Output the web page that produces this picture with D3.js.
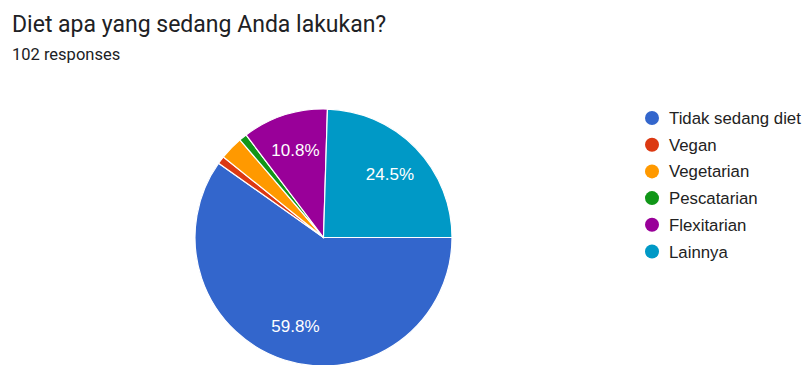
<!DOCTYPE html>
<html><head><meta charset="utf-8">
<script src="https://cdn.jsdelivr.net/npm/d3@7"></script>
<style>html,body{margin:0;padding:0;background:#fff;}svg{display:block;font-family:Roboto,Arial,sans-serif;}</style>
</head><body>
<svg id="chart" width="807" height="365"></svg>
<script>
const title = "Diet apa yang sedang Anda lakukan?";
const subtitle = "102 responses";
const categories = ["Tidak sedang diet","Vegan","Vegetarian","Pescatarian","Flexitarian","Lainnya"];
const counts = [61,1,3,1,11,25];
const colors = ["#3366cc","#dc3912","#ff9900","#109618","#990099","#0099c6"];

const svg = d3.select("#chart");
svg.append("text").attr("x",12).attr("y",32).attr("font-size",23).attr("fill","#202124").text(title);
svg.append("text").attr("x",12).attr("y",60).attr("font-size",16.5).attr("fill","#202124").text(subtitle);

const cx = 323.5, cy = 237.5, R = 128.5;
const total = d3.sum(counts);
const data = categories.map((c,i)=>({cat:c, v:counts[i], color:colors[i]}));
const pie = d3.pie().value(d=>d.v).sort(null).startAngle(Math.PI/2).endAngle(Math.PI/2+2*Math.PI);
const arcs = pie(data);
const arc = d3.arc().innerRadius(0).outerRadius(R);
const labelArc = d3.arc().innerRadius(R*0.72).outerRadius(R*0.72);
const g = svg.append("g").attr("transform",`translate(${cx},${cy})`);
g.selectAll("path").data(arcs).join("path")
  .attr("d",arc).attr("fill",d=>d.data.color).attr("stroke","#fff").attr("stroke-width",1.2);
g.selectAll("text").data(arcs.filter(d=>d.data.v/total>0.05)).join("text")
  .attr("transform",d=>`translate(${labelArc.centroid(d)})`)
  .attr("text-anchor","middle").attr("dy","0.38em")
  .attr("font-family","'Liberation Sans',Arial,sans-serif")
  .attr("font-size",17).attr("fill","#fff")
  .text(d=>(d.data.v/total*100).toFixed(1)+"%");

const lg = svg.append("g").attr("transform","translate(652,118)");
const rows = lg.selectAll("g").data(data).join("g").attr("transform",(d,i)=>`translate(0,${i*26.7})`);
rows.append("circle").attr("r",7).attr("fill",d=>d.color);
rows.append("text").attr("x",17).attr("dy","0.36em")
  .attr("font-family","'Liberation Sans',Arial,sans-serif")
  .attr("font-size",16.8).attr("fill","#222").text(d=>d.cat);
</script>
</body></html>
